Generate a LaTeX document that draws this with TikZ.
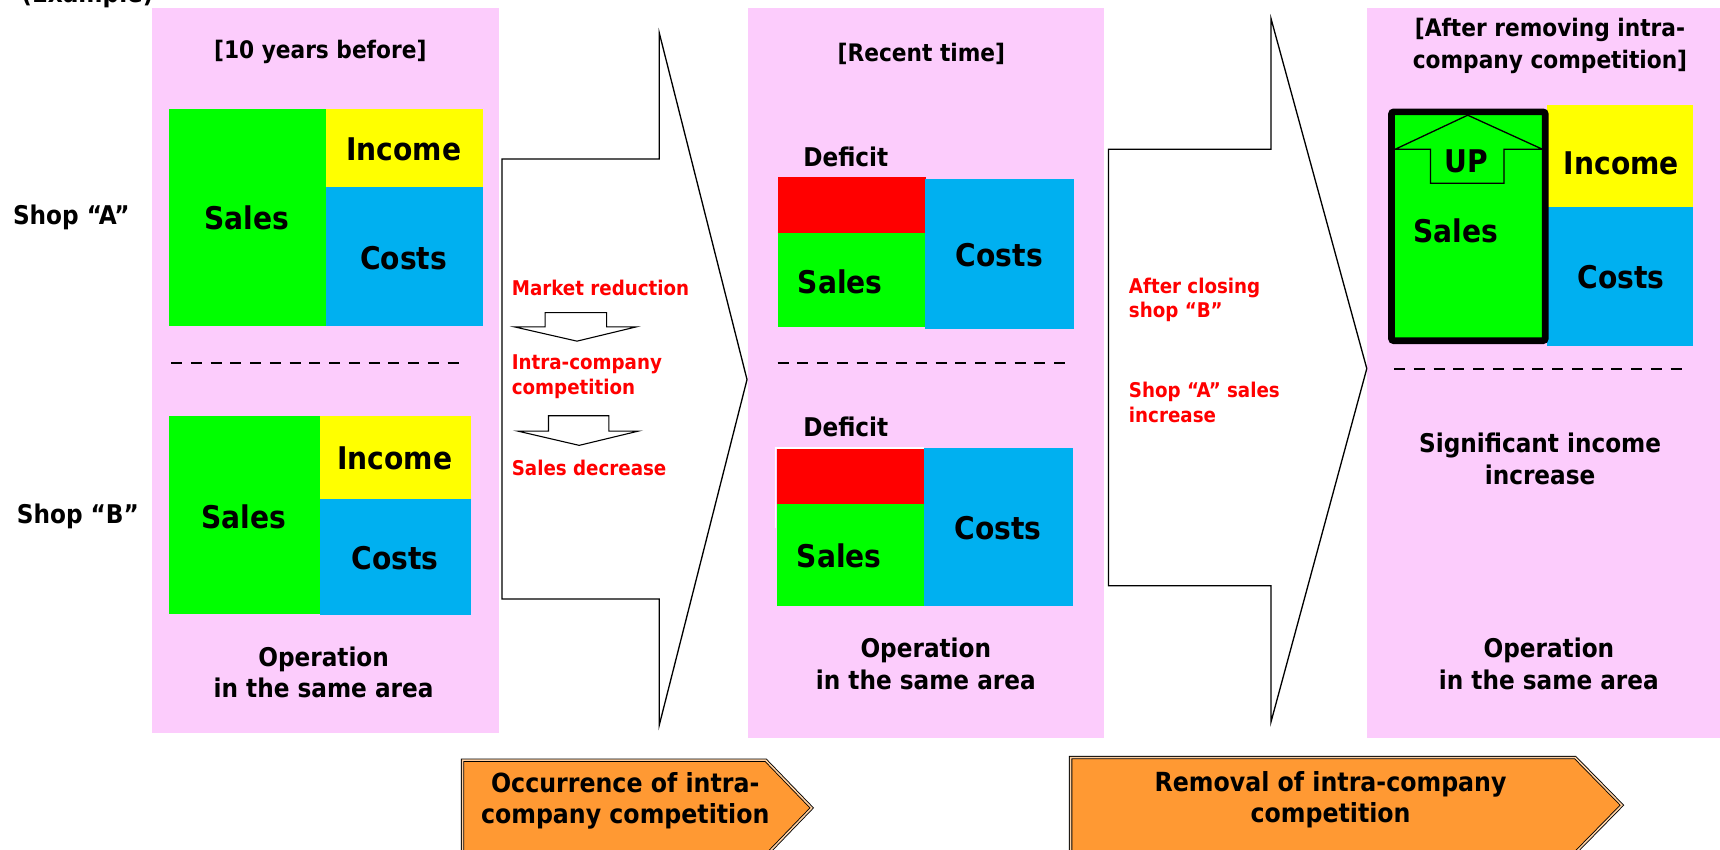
\documentclass[tikz,border=0pt]{standalone}
\usepackage{fontspec}
\setmainfont{DejaVu Sans Condensed}
\usepackage{xcolor}
\definecolor{panelpink}{RGB}{252,204,252}
\definecolor{salesgreen}{RGB}{0,255,0}
\definecolor{incomeyellow}{RGB}{255,255,0}
\definecolor{costscyan}{RGB}{0,176,240}
\definecolor{deficitred}{RGB}{255,0,0}
\definecolor{stageorange}{RGB}{255,153,51}

\begin{document}
\begin{tikzpicture}[x=1pt,y=-1pt,
    big/.style={font=\fontsize{28.5}{30}\selectfont\bfseries},
    mid/.style={font=\fontsize{23.5}{29}\selectfont\bfseries,align=center},
    head/.style={font=\fontsize{22}{29}\selectfont\bfseries,align=center},
    note/.style={font=\fontsize{18.5}{22.5}\selectfont\bfseries,text=deficitred,anchor=west,align=left,inner sep=0pt},
    cut/.style={line width=2pt,dash pattern=on 10pt off 8pt},
    callout/.style={draw=black,line width=1.2pt,fill=white},
    hollow/.style={draw=black,line width=1pt,fill=white},
    stage/.style={draw=black,double=stageorange!45!white,double distance=1.4pt,line width=0.8pt,fill=stageorange},
    stagetext/.style={font=\fontsize{24}{29}\selectfont\bfseries,align=center}]
    \useasboundingbox (0,0) rectangle (1568,774);

    \draw (16,2) node[mid,anchor=base west] (example) {(Example)};

    % panels
    \fill[panelpink] (138.6,7.3) rectangle (455,668);
    \fill[panelpink] (682,7.3) rectangle (1006,673);
    \fill[panelpink] (1246,7.3) rectangle (1568,673);

    % 10 years before
    \draw (292,47) node[head] (head-old) {[10 years before]};
    \draw (65,198) node[mid] (shop-a) {Shop “A”};
    \draw (71,471) node[mid] (shop-b) {Shop “B”};

    \fill[salesgreen] (154,99.4) rectangle (297,297);
    \fill[incomeyellow] (297,99.4) rectangle (440.3,170.5);
    \fill[costscyan] (297,170.5) rectangle (440.3,297);
    \draw (225,199) node[big] (sales-a) {Sales};
    \draw (368,136) node[big] (income-a) {Income};
    \draw (368,235) node[big] (costs-a) {Costs};

    \draw[cut] (156,331) -- (424,331);

    \fill[salesgreen] (154,379) rectangle (291.7,560);
    \fill[incomeyellow] (291.7,379) rectangle (429.4,455);
    \fill[costscyan] (291.7,455) rectangle (429.4,560.6);
    \draw (222,471) node[big] (sales-b) {Sales};
    \draw (360,418) node[big] (income-b) {Income};
    \draw (360,509) node[big] (costs-b) {Costs};

    \draw (295,613) node[mid] (area-old) {Operation\\in the same area};

    % first callout
    \draw[callout] (457.6,145) -- (601,145) -- (601,30) -- (681,346) -- (601,661)
        -- (601,546) -- (457.6,546) -- cycle;
    \draw (466.4,262.8) node[note] (market) {Market reduction};
    \draw[hollow] (497,285) -- (553,285) -- (553,298) -- (580,298) -- (526,311)
        -- (469,298) -- (497,298) -- cycle;
    \draw (466.4,343.3) node[note] (rivalry) {Intra-company\\competition};
    \draw[hollow] (500,379) -- (555,379) -- (555,393) -- (582,393) -- (528,406)
        -- (472,393) -- (500,393) -- cycle;
    \draw (466.4,426.8) node[note] (decrease) {Sales decrease};

    % recent time
    \draw (840,49) node[head] (head-now) {[Recent time]};
    \draw (771,143) node[mid] (deficit-a) {Deficit};
    \fill[deficitred] (709,161) rectangle (844,212);
    \fill[salesgreen] (709,212) rectangle (843,298);
    \fill[costscyan] (843,163) rectangle (979,300);
    \draw (766,257) node[big] (sales-c) {Sales};
    \draw (911,233) node[big] (costs-c) {Costs};

    \draw[cut] (709,331) -- (978,331);

    \draw (771,389) node[mid] (deficit-b) {Deficit};
    \fill[deficitred] (708,409.6) rectangle (842,459);
    \fill[salesgreen] (708,459) rectangle (842,552.6);
    \fill[costscyan] (842,408) rectangle (978,552.6);
    \draw[white,line width=1.5pt] (707,481) |- (842,408.5);
    \draw (765,507) node[big] (sales-d) {Sales};
    \draw (910,481) node[big] (costs-d) {Costs};

    \draw (844,605) node[mid] (area-now) {Operation\\in the same area};

    % second callout
    \draw[callout] (1010.6,136) -- (1158.7,136) -- (1158.7,17) -- (1246,336) -- (1158.7,658)
        -- (1158.7,534) -- (1010.6,534) -- cycle;
    \draw (1029,273.5) node[note] (closing) {After closing\\shop “B”};
    \draw (1029,366.7) node[note] (growth) {Shop “A” sales\\increase};

    % after removing
    \draw (1413,42) node[head] (head-new) {[After removing intra-\\company competition]};
    \fill[incomeyellow] (1410,96) rectangle (1543,188.6);
    \fill[costscyan] (1410,188.6) rectangle (1543,315);
    \draw[line width=6pt,rounded corners=2pt,fill=salesgreen] (1268.5,102) rectangle (1408.7,310.6);
    \draw[line width=1.2pt] (1272,136) -- (1338,105) -- (1406,136) -- (1371,136) -- (1371,167)
        -- (1304,167) -- (1304,136) -- cycle;
    \draw (1337,147) node[big] (up) {UP};
    \draw (1327,210) node[big] (sales-e) {Sales};
    \draw (1478,149) node[big] (income-e) {Income};
    \draw (1478,253) node[big] (costs-e) {Costs};

    \draw[cut] (1271,336.4) -- (1539,336.4);

    \draw (1404,418) node[mid] (gain) {Significant income\\increase};
    \draw (1412,605) node[mid] (area-new) {Operation\\in the same area};

    % stage arrows
    \draw[stage] (421.7,693) -- (698,693) -- (740,736.5) -- (698,780) -- (421.7,780) -- cycle;
    \draw (570,730) node[stagetext] (stage-one) {Occurrence of intra-\\company competition};
    \draw[stage] (976,690.6) -- (1436,690.6) -- (1478.6,734) -- (1436,777.4) -- (976,777.4) -- cycle;
    \draw (1213,729) node[stagetext] (stage-two) {Removal of intra-company\\competition};
\end{tikzpicture}
\end{document}
